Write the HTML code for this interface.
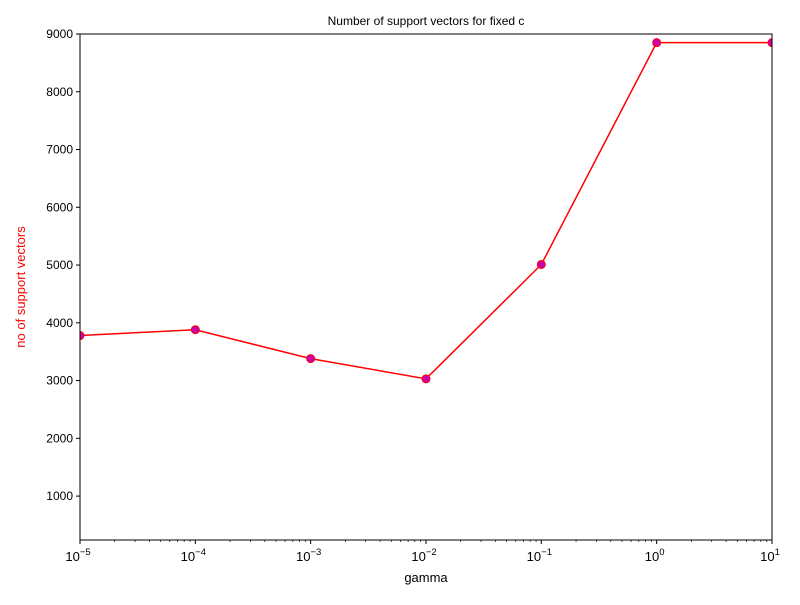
<!DOCTYPE html>
<html><head><meta charset="utf-8"><style>
body{margin:0;background:#fff;}
text{font-family:"Liberation Sans",sans-serif;}
</style></head><body>
<svg id="chart" width="800" height="600" xmlns="http://www.w3.org/2000/svg">
<defs><clipPath id="plotclip"><rect x="80" y="34" width="692" height="506"/></clipPath></defs>
<rect width="800" height="600" fill="#fff"/>
<text x="426" y="25" font-size="12" text-anchor="middle">Number of support vectors for fixed c</text>
<text x="426" y="582" font-size="13" text-anchor="middle">gamma</text>
<text transform="translate(25,287) rotate(-90)" font-size="13" text-anchor="middle" fill="red">no of support vectors</text>
<g id="axes"></g>
<g id="series" clip-path="url(#plotclip)"></g>
<rect x="80" y="34" width="692" height="506" fill="none" stroke="#000" stroke-width="1"/>
</svg>
<script>
const gammaExps = [-5, -4, -3, -2, -1, 0, 1];
const supportVectors = [3780, 3880, 3380, 3030, 5010, 8850, 8850];
const yTicks = [1000, 2000, 3000, 4000, 5000, 6000, 7000, 8000, 9000];
const xTickExps = [-5, -4, -3, -2, -1, 0, 1];

const L=80,R=772,T=34,B=540, xMin=-5,xMax=1, yMin=240,yMax=9000;
const NS='http://www.w3.org/2000/svg';
function xs(e){return L+(e-xMin)/(xMax-xMin)*(R-L);}
function ys(v){return B-(v-yMin)/(yMax-yMin)*(B-T);}
function mk(tag,attrs,parent){const el=document.createElementNS(NS,tag);for(const k in attrs)el.setAttribute(k,attrs[k]);parent.appendChild(el);return el;}
const axes=document.getElementById('axes'), series=document.getElementById('series');

yTicks.forEach(v=>{
  const y=ys(v);
  const t=mk('line',{x1:L-4,x2:L,y1:y,y2:y,stroke:'#000'},axes);
  
  
  const tx=mk('text',{x:L-7,y:y+4,'font-size':12,'text-anchor':'end'},axes);
  tx.textContent=v;
  
  
});
xTickExps.forEach(e=>{
  const x=xs(e);
  const t=mk('line',{x1:x,x2:x,y1:B,y2:B+4,stroke:'#000'},axes);
  
  
  const tx=mk('text',{x:x-2,y:B+21,'font-size':13,'text-anchor':'middle'},axes);
  tx.textContent='10';
  const sp=mk('tspan',{dy:-6,'font-size':9.5},tx);
  sp.textContent=(e<0?'\u2212':'')+Math.abs(e);
  
  
  if(e<xMax){
    for(let m=2;m<=9;m++){
      const xm=xs(e+Math.log10(m));
      const mt=mk('line',{x1:xm,x2:xm,y1:B,y2:B+2,stroke:'#000','stroke-width':0.7},axes);
      
      
    }
  }
});
const pts=gammaExps.map((e,i)=>xs(e)+','+ys(supportVectors[i])).join(' ');
const line=mk('polyline',{points:pts,fill:'none',stroke:'red','stroke-width':1.5},series);


gammaExps.forEach((e,i)=>{
  const c=mk('circle',{cx:xs(e),cy:ys(supportVectors[i]),r:4,fill:'#cc00aa',stroke:'red','stroke-width':1},series);
  
  
});
</script>
</body></html>
